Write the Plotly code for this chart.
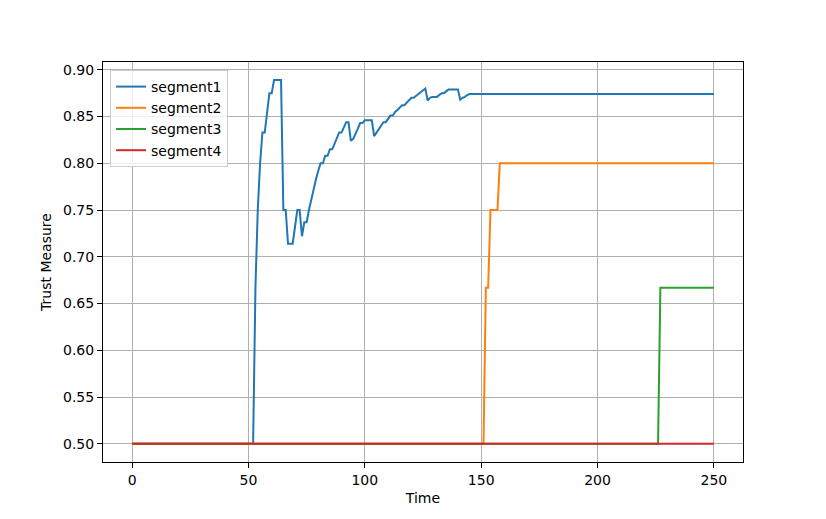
import plotly.graph_objects as go

# Segment 1 (time, value) at change points
seg1_t = [0, 52, 53, 54, 55, 56, 57, 58, 59, 60, 61, 64, 65, 66, 67, 69, 70, 71, 72, 73,
          74, 75, 76, 77, 78, 79, 80, 81, 82, 83, 84, 85, 86, 87, 88, 89, 90, 91, 92, 93,
          94, 95, 96, 97, 98, 99, 100, 103, 104, 105, 106, 107, 108, 109, 110, 111, 112,
          113, 114, 115, 116, 117, 118, 119, 120, 121, 122, 123, 124, 125, 126, 127, 128,
          129, 131, 132, 133, 134, 135, 136, 140, 141, 142, 143, 144, 145, 250]
seg1_v = [0.5, 0.5, 0.667, 0.75, 0.8, 0.833, 0.833, 0.857, 0.875, 0.875, 0.889, 0.889, 0.75,
          0.75, 0.714, 0.714, 0.733, 0.75, 0.75, 0.722, 0.737, 0.737, 0.75, 0.762, 0.773,
          0.783, 0.792, 0.80, 0.80, 0.808, 0.808, 0.815, 0.815, 0.821, 0.827, 0.833, 0.833,
          0.839, 0.844, 0.844, 0.824, 0.826, 0.831, 0.837, 0.843, 0.843, 0.846, 0.846, 0.829,
          0.833, 0.837, 0.841, 0.844, 0.844, 0.848, 0.851, 0.851, 0.855, 0.857, 0.860, 0.862,
          0.862, 0.865, 0.868, 0.870, 0.870, 0.872, 0.875, 0.877, 0.879, 0.880, 0.867, 0.870,
          0.871, 0.871, 0.873, 0.875, 0.875, 0.877, 0.879, 0.879, 0.868, 0.870, 0.871, 0.873,
          0.874, 0.874]

seg2_t = [0, 151, 152, 153, 154, 157, 158, 250]
seg2_v = [0.5, 0.5, 0.667, 0.667, 0.75, 0.75, 0.8, 0.8]

seg3_t = [0, 226, 227, 250]
seg3_v = [0.5, 0.5, 0.667, 0.667]

seg4_t = [0, 250]
seg4_v = [0.5, 0.5]

names = ["segment1", "segment2", "segment3", "segment4"]
colors = ["#1f77b4", "#ff7f0e", "#2ca02c", "#d62728"]
series = [(seg1_t, seg1_v), (seg2_t, seg2_v), (seg3_t, seg3_v), (seg4_t, seg4_v)]

x_ticks = [0, 50, 100, 150, 200, 250]
y_ticks = [0.50, 0.55, 0.60, 0.65, 0.70, 0.75, 0.80, 0.85, 0.90]

FONT = "DejaVu Sans"
FS = 14

fig = go.Figure()
for (t, v), n, c in zip(series, names, colors):
    fig.add_trace(go.Scatter(x=t, y=v, mode="lines", name=n,
                             line=dict(color=c, width=2)))

axis_common = dict(
    showline=True, linecolor="black", linewidth=1, mirror=True,
    showgrid=True, gridcolor="#b0b0b0", gridwidth=1,
    ticks="outside", ticklen=5, tickwidth=1, tickcolor="black",
    zeroline=False,
    tickfont=dict(family=FONT, size=FS, color="black"),
)

fig.update_layout(
    width=826, height=519,
    margin=dict(l=95, r=91, t=54, b=65),
    paper_bgcolor="white", plot_bgcolor="white",
    font=dict(family=FONT, size=FS, color="black"),
    xaxis=dict(range=[-12.5, 262.5], tickvals=x_ticks,
               title=dict(text="Time", font=dict(family=FONT, size=FS), standoff=6),
               **axis_common),
    yaxis=dict(range=[0.4806, 0.9083], tickvals=y_ticks,
               ticktext=[f"{v:.2f}" for v in y_ticks],
               title=dict(text="Trust Measure", font=dict(family=FONT, size=FS), standoff=8),
               **axis_common),
    legend=dict(x=0.011, y=0.98, xanchor="left", yanchor="top",
                bgcolor="rgba(255,255,255,0.8)", bordercolor="#cccccc", borderwidth=1,
                font=dict(family=FONT, size=FS), tracegroupgap=0,
                itemwidth=30),
    showlegend=True,
)

fig.write_html("out.html")
